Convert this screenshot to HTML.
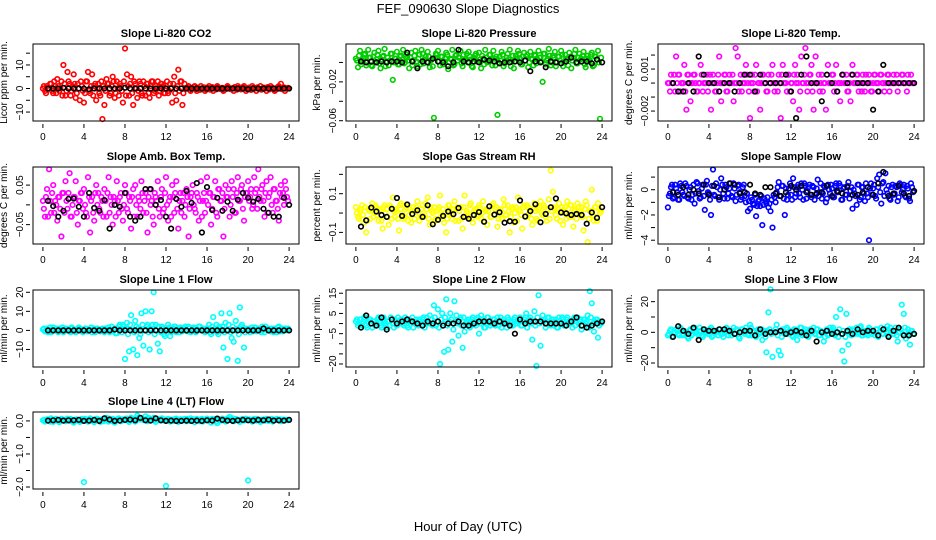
<!DOCTYPE html>
<html><head><meta charset="utf-8">
<style>
body{margin:0;background:#fff;}
svg{display:block;font-family:"Liberation Sans",sans-serif;}
</style></head>
<body>
<svg id="chart" width="936" height="540" viewBox="0 0 936 540">
<rect width="936" height="540" fill="#fff"/>
<text x="468" y="13" text-anchor="middle" font-size="13">FEF_090630  Slope Diagnostics</text>
<text x="468" y="531" text-anchor="middle" font-size="13">Hour of Day (UTC)</text>
</svg>
<script>
const xTicks = [0,4,8,12,16,20,24];
const colorStepHours = 0.2;
const coreOffsetHours = 0.1;
const blackStartHour = 0.5;
const blackStepHours = 0.5;

const co2Color = [0,-1,1,0,2,-2,1,4,-1,3, 10,-3,7,2,-1,6,-4,2,-5,1, -6,3,7,-2,6,1,-5,2,-3,-13, -7,4,2,-2,5,-4,3,-3,1,-6, 17,6,-3,5,-7,2,-4,3,-2,3, -3,2,-4,3,-2,1,3,-1,2,-2, 1,-2,2,-6,5,-5,8,3,-7,2, 0,1,-1,0,1,-1,0,1,0,-1, 0,1,0,-1,0,1,0,0,-1,0, 1,0,0,-1,0,1,0,0,1,-1, 0,0,1,0,-1,0,1,0,0,-1, 0,1,0,-1,0,1,2,0,-1,0];
const co2Core = [1,-2,0,2,-1,3,-2,1,0,-3, 2,-1,3,-3,1,2,-2,0,3,-1, -2,3,-1,1,-3,2,0,-2,3,1, -1,2,-3,1,3,-2,0,2,-1,3, -3,1,2,-2,3,0,-1,2,-3,1, 2,-2,1,3,-1,0,-3,2,1,-2, 3,-1,0,2,-2,1,-1,3,-2,0, 0.5,-0.5,0,0.7,-0.3,0.4,-0.6,0,0.5,-0.4, 0.3,-0.5,0.6,0,-0.4,0.5,-0.2,0.3,-0.6,0.2, 0.5,-0.3,0,0.6,-0.5,0.2,-0.4,0.5,0,-0.3, 0.4,-0.6,0.3,0,0.5,-0.2,-0.5,0.4,0,0.6, -0.4,0.3,0,-0.5,0.6,0.2,-0.3,0.5,-0.1,0.3];
const co2Black = [0,0,0,0.3,0,0,0,0,-0.3,0,0,0,0,0,0,0.3,0,0,0,0,0,0,0,0,0,0,0,0,0,0,0,0,0,0,0,0,0,0,0,-0.3,0,0,0,0,0,0,0,0];

const presColor = [0.004,-0.005,0.012,0.002,0.008,-0.003,0.013,0.005,-0.004,0.01, 0.003,0.012,-0.006,0.006,0.014,0.001,-0.003,0.009,-0.018,0.004, 0.011,-0.002,0.007,0.013,0,0.005,-0.006,0.01,0.002,0.012, -0.004,0.008,0.013,-0.001,0.006,0.011,-0.005,0.003,-0.057,0.009, 0.012,-0.003,0.006,0.001,0.01,-0.007,0.004,0.013,-0.002,0.008, 0.005,0.012,-0.004,0.002,0.009,0.011,0.003,-0.005,0.007,0.001, 0.01,-0.006,0.004,0.013,0,0.008,0.003,0.012,-0.003,-0.054, 0.006,0.011,-0.004,0.002,0.009,0.013,0.001,-0.006,0.007,0.012, 0.004,-0.002,0.01,0.006,-0.005,0.011,0.003,0.008,-0.001,0.012, 0.005,-0.02,0.009,0.002,0.014,-0.003,0.007,0.011,0,0.006, 0.012,-0.004,0.008,0.003,0.01,-0.006,0.005,0.013,-0.001,0.009, 0.004,0.011,-0.005,0.007,0.002,0.01,-0.003,0.006,0.012,-0.058];
const presCore = [0.002,0.007,-0.002,0.004,0.009,0,0.005,-0.003,0.006,0.001, 0.008,-0.001,0.003,0.007,-0.004,0.005,0.002,0.009,0,0.004, -0.002,0.006,0.003,-0.001,0.008,0.002,0.005,-0.003,0.007,0.001, 0.004,-0.002,0.009,0.003,0,0.006,0.002,-0.004,0.005,0.008, 0.001,0.006,-0.002,0.004,0.008,0,0.003,-0.003,0.007,0.002, 0.005,-0.001,0.008,0.003,0,0.006,-0.004,0.004,0.009,0.001, 0.003,0.007,-0.002,0.005,0.001,0.008,-0.003,0.004,0.006,0, 0.002,0.008,-0.001,0.005,0.003,-0.004,0.007,0.001,0.004,0.009, -0.002,0.006,0.002,0.008,0,0.004,-0.003,0.007,0.003,0.005, 0.001,0.009,-0.002,0.004,0.007,0,0.005,-0.004,0.006,0.002, 0.008,0,0.004,-0.003,0.006,0.002,0.009,-0.001,0.005,0.003, 0.007,-0.002,0.004,0.001,0.008,-0.004,0.006,0.003,0,0.005];
const presBlack = [0.001,0,0.001,0,0.001,0,0.001,0.001,0,0.01,0.001,-0.006,0.001,0,0.004,0.001,0,-0.004,0,0.013,0.001,0,0.001,0,0.003,0.002,0.001,-0.001,0,0,0.001,0,0.002,-0.009,0.001,0,-0.005,0.001,0,-0.001,0.001,0.005,0,0.001,0.001,-0.001,0.003,0];

const tempColor = [0,-0.0006,0,0.0006,0.0019,0.0006,-0.0006,0,0.0013,-0.0019, 0.0006,-0.0013,0,0.0006,-0.0006,0,0.0013,-0.0006,0,0.0006, 0,-0.0019,0.0006,-0.0006,0,0.0019,-0.0013,0,0.0006,-0.0006, 0.0006,0,-0.0013,0.0025,0.0019,0,-0.0006,0.0006,0.0013,0, -0.0025,0.0006,-0.0006,0.0013,0,-0.0019,0.0006,0,-0.0006,0.0006, 0,0.0013,-0.0006,0,0.0006,-0.0025,0.0013,0,-0.0006,0.0006, 0,-0.0013,0.0013,0.0006,-0.0019,0.0019,0,0.0025,-0.0006,0.0006, 0.0013,-0.0019,0.0019,0,-0.0006,0.0006,0,-0.0019,0.0013,0, 0.0006,-0.0006,0.0013,0,-0.0013,0.0006,0,0.0006,-0.0006,-0.0013, 0.0013,0,0.0006,-0.0006,0,0.0006,-0.0006,0,0.0006,-0.0006, 0,0.0006,0,-0.0006,0.0006,0,0,0.0006,-0.0006,0, 0.0006,0,-0.0006,0,0.0006,0,0,0.0006,0,0];
const tempCore = [0,0.0006,0,-0.0006,0,0.0006,0,0,-0.0006,0.0006, 0,0,0.0006,0,-0.0006,0,0.0006,0,0,-0.0006, 0.0006,0,0,-0.0006,0.0006,0,0,0.0006,-0.0006,0, 0,0.0006,0,0,-0.0006,0.0006,0,0,0.0006,-0.0006, 0,0,0.0006,-0.0006,0,0,0.0006,0,-0.0006,0, 0.0006,0,0,-0.0006,0,0.0006,0,0,0.0006,-0.0006, 0,0.0006,0,0,-0.0006,0,0.0006,0,0,0.0006, -0.0006,0,0,0.0006,0,-0.0006,0,0.0006,0,0, 0.0006,0,-0.0006,0,0,0.0006,0,-0.0006,0,0.0006, 0,0,0.0006,0,-0.0006,0,0.0006,0,0,-0.0006, 0.0006,0,0,0.0006,0,-0.0006,0,0.0006,0,0, 0,0.0006,0,0,0.0006,0,-0.0006,0,0.0006,0];
const tempBlack = [0,-0.0006,-0.0006,0,-0.0006,0.0019,0.0006,0,0,-0.0006,0,0,-0.0006,0,0.0006,0.0006,-0.0006,0.0006,0,0,0,0,0.0006,-0.0006,-0.0025,0.0006,0.0019,0,0,-0.0013,0.0006,0,-0.0006,0.0006,0,0.0006,0,0,0,-0.0019,-0.0006,0.0013,0,0,0,0,0,0];

const ambColor = [0.01,-0.03,0.04,0.09,-0.02,0.05,0.01,-0.04,0.02,-0.08, 0.03,0.06,-0.01,0.08,-0.03,0.02,0.06,-0.05,0.01,0.03, 0.04,-0.02,0.07,-0.07,0.02,-0.04,0.05,0.03,-0.02,0.01, 0.04,-0.03,0.07,0.02,-0.05,0.01,0.06,-0.02,0.03,-0.04, 0.05,-0.01,0.02,-0.06,0.04,0.05,-0.03,0.01,0.06,-0.02, 0.03,-0.07,0.04,0.01,-0.05,0.02,0.06,-0.03,0.04,-0.01, 0.07,-0.04,0.02,0.05,-0.02,0.06,-0.06,0.03,0.01,-0.03, 0.04,-0.08,0.02,0.05,-0.01,0.03,-0.04,0.06,0.01,-0.02, 0.07,0.03,-0.05,0.02,0.06,-0.03,0.04,0.01,-0.08,0.05, 0.02,-0.03,0.06,0.04,-0.02,0.07,0.01,0.05,-0.04,0.03, 0.06,0.02,-0.01,0.07,0.04,0.09,0.01,0.05,-0.03,0.06, 0.02,0.07,-0.02,0.04,0.01,-0.04,0.05,0.03,0.06,0.02];
const ambCore = [-0.01,0.02,-0.03,0.01,0.03,-0.02,0,0.02,-0.01,0.03, -0.02,0.01,0.03,-0.03,0,0.02,-0.02,0.01,0.03,-0.01, 0,-0.03,0.02,0.01,-0.02,0.03,0,-0.01,0.02,-0.03, 0.01,0.03,-0.02,0,0.02,-0.03,0.01,0.02,-0.01,0, 0.03,-0.02,0.01,0.02,-0.03,0,0.02,-0.01,0.03,0.01, -0.02,0.02,0,-0.03,0.03,0.01,-0.01,0.02,-0.02,0.03, 0,0.01,-0.03,0.02,0.03,-0.01,0.01,-0.02,0.03,0, 0.02,-0.01,0.03,0,-0.02,0.02,0.01,-0.03,0.03,0.01, 0,0.03,-0.01,0.02,-0.02,0.04,0.01,0.03,-0.01,0.02, 0.04,0,0.02,-0.02,0.03,0.01,0.04,-0.01,0.02,0.03, 0.01,0.04,0,0.03,-0.01,0.02,0.04,0.01,0.03,-0.02, 0.03,0,0.04,0.01,-0.01,0.03,0.02,0,0.04,0.01];
const ambBlack = [0.01,-0.003,-0.03,-0.015,0.015,0.016,-0.005,-0.03,0.03,-0.008,-0.015,0.012,-0.06,0,-0.005,0.03,-0.03,-0.04,-0.03,0.04,0.04,0,0.012,-0.03,-0.06,0.015,-0.005,0.035,0.005,0.055,-0.07,0.045,-0.013,0.018,-0.015,0.008,-0.015,0.013,0.03,0.018,0.008,0.015,-0.01,-0.02,-0.03,-0.03,0.018,0];

const rhColor = [0.03,-0.02,0.01,0.04,-0.05,-0.1,0.02,-0.03,0.05,0, 0.03,-0.04,0.01,-0.08,0.04,0.02,-0.06,0.03,0.08,-0.02, 0.01,-0.09,0.05,-0.03,0.02,0.04,-0.01,-0.05,0.03,0.01, 0.06,-0.04,0.02,-0.02,0.05,0.08,-0.06,0.01,0.03,-0.03, 0.02,0.09,-0.01,-0.05,-0.1,0.04,0.01,-0.03,0.06,0.02, -0.04,0.03,-0.08,0.09,0.01,-0.02,0.05,-0.05,0.02,-0.01, 0.04,-0.03,0.06,0.01,-0.06,0.03,-0.02,0.05,0.02,-0.07, 0.01,-0.03,0.07,-0.01,0.04,-0.1,0.02,-0.05,0.03,0.08, 0.01,-0.08,0.04,-0.02,0.03,0.01,-0.06,0.05,-0.03,0.02, 0.06,-0.01,0.03,-0.04,0.07,0.22,0.11,0.02,-0.03,0.05, 0.01,-0.06,0.03,0.06,-0.02,0.04,-0.07,0.02,0.05,-0.01, 0.03,-0.09,0.06,-0.15,0.01,0.12,-0.04,0.03,0.05,0];
const rhCore = [0,-0.03,0.02,-0.01,0.03,-0.04,0.01,0.02,-0.02,0.04, -0.01,0.02,-0.04,0.03,0,-0.02,0.04,-0.03,0.01,0.02, -0.03,0.04,0,-0.02,0.03,-0.04,0.02,0.01,-0.03,0.03, 0,-0.02,0.04,-0.01,0.02,-0.03,0.03,0,-0.04,0.01, 0.03,-0.02,0.02,0,-0.03,0.04,-0.01,0.02,-0.04,0.03, 0.01,-0.03,0.03,-0.02,0,0.04,-0.03,0.01,0.02,-0.02, 0.03,0,-0.04,0.02,0.01,-0.02,0.04,-0.01,0.03,-0.03, 0.02,0,0.04,-0.03,0.01,-0.02,0.03,0,-0.04,0.02, -0.01,0.03,-0.02,0.04,0,-0.03,0.02,0.01,-0.04,0.03, 0,0.04,-0.02,0.02,-0.03,0.01,0.03,-0.01,0.02,-0.04, 0.03,0,-0.03,0.02,0.04,-0.02,0.01,-0.03,0.03,0, -0.02,0.02,0.04,-0.03,0.01,-0.01,0.03,-0.04,0.02,0.01];
const rhBlack = [-0.07,-0.038,0.028,0.008,-0.01,-0.02,0.022,0.078,-0.015,0.044,-0.005,0.014,-0.02,0.04,-0.058,-0.035,-0.015,0.008,-0.006,0.026,-0.02,-0.03,-0.01,0.005,-0.045,0.035,-0.008,0.004,-0.05,-0.042,-0.045,0.065,-0.018,0.01,0.045,-0.048,-0.005,0.03,0.075,0.003,-0.002,-0.01,-0.005,-0.01,-0.055,0.003,-0.025,0.03];

const sampColor = [-1.4,-0.3,0.4,-0.6,0.1,-0.8,0.5,-0.2,-0.5,0.3, -0.7,0.2,-0.4,-1.1,0.6,-0.1,-0.6,0.4,-1.6,0.7, -0.3,-2,1.6,-0.5,0.2,-0.8,0.9,-0.3,0.4,-0.7, 0.1,-0.5,0.5,-0.9,0.3,-0.2,-0.6,0.4,-1,-1.7, -1.5,-0.8,-1.2,-2.1,-0.9,-1.3,-2.8,-0.7,-1.1,-1.4, -1.7,-3,-0.6,-0.2,0.6,-0.5,0.3,-2,-0.8,0.1, -0.4,0.9,-0.6,0.2,-0.3,0.5,-0.8,0.3,-0.1,0.4, -0.6,0.2,-0.4,0.8,-0.2,-0.7,0.3,-1,0.4,-0.3, 0.1,-0.6,0.5,-0.2,0.3,-0.8,0.2,-0.4,0.6,-0.1, -1.5,-0.3,-1.2,0.4,-0.6,0.2,-0.9,-0.3,-4,0.5, 0.1,-0.5,0.9,1.2,-1.1,0.6,1.3,-0.3,-0.7,0.2, -0.4,0.3,-0.9,0.5,-0.2,0.4,-0.6,0.1,-0.9,0.2];
const sampCore = [-0.5,0.2,-0.7,0.4,-0.2,-0.8,0.3,-0.4,0.5,-0.6, 0,-0.8,0.4,-0.3,0.5,-0.7,0.1,-0.5,0.4,-0.2, -0.8,0.3,-0.4,0.5,-0.6,0,0.4,-0.7,0.2,-0.3, 0.5,-0.6,0.1,-0.4,0.4,-0.8,0.2,-0.5,-0.3,-0.9, -0.6,-1.1,-0.4,-1.3,-0.8,-0.5,-1.2,-0.9,-0.6,-1.1, -0.8,-0.4,-1,0.2,-0.5,0.3,-0.7,0.1,-0.4,0.5, -0.8,0.2,-0.3,0.4,-0.6,0,0.5,-0.7,0.2,-0.4, 0.3,-0.8,0.1,-0.5,0.5,-0.3,0.2,-0.7,0,0.4, -0.6,0.3,-0.2,0.5,-0.8,0.1,-0.4,0.3,-0.7,0.2, 0,-0.5,0.4,-0.8,0.2,-0.3,0.5,-0.6,0.1,-0.4, 0.4,-0.7,0.2,-0.2,0.5,-0.5,0,0.3,-0.8,0.4, -0.3,0.2,-0.6,0.4,0,-0.5,0.3,-0.7,0.5,-0.2];
const sampBlack = [-0.2,-0.4,0.2,-0.4,0,-0.3,0.4,-0.4,0.3,-0.6,0,0.5,0.4,-0.3,-0.2,0.4,-0.3,-0.4,0.2,0.2,-0.3,-0.5,-0.2,0.3,0,0.3,-0.2,-0.4,-0.3,-0.2,0.3,-0.5,-0.1,-0.3,0.2,-0.4,-0.4,-0.2,0.2,-0.4,0.5,1.4,-0.5,-0.3,0.3,-0.3,-0.5,-0.1];

const l1Color = [0.5,-0.5,1,0,-1,1.5,0,-0.5,1,0.5, -1,1,0.5,-0.5,1.5,0,-1,0.5,1,-0.5, 0,1,-0.5,0.5,-1,1,0,0.5,-0.5,1, -1,0.5,1.5,0,-0.5,1,-1.5,2,0.5,3, -15,4,-11,8,-10,5,-13,-4,9,-8, 10,3,-10,10,20,3,-7,-11,2,-2, 1,3,-3,0.5,2,-1,0.5,1.5,-0.5,1, 0,2,-1,0.5,1,-0.5,2,0,1,-1, 0.5,3,-2,7,1,-1,2,9,-9,4, -15,9,-4,-6,5,-16,12,3,-9,1, 0.5,-1,1.5,0,-0.5,1,0,2,-1,0.5, 1,-0.5,0,1,-1,2,0.5,-0.5,1,0];
const l1Core = [1,0,-1,1.5,-0.5,0.5,1,-1,0,1.5, -0.5,1,0,-1,1,0.5,-0.5,1.5,0,-1, 1,-0.5,0.5,1.5,0,-1,1,0,0.5,-0.5, 1,0,-1,2,0.5,-1.5,1,3,-1,2, 1,-2,3,0,-1,2,1,-2,3,0, 2,-1,1,3,-2,0,2,-1,1,-3, 0,1.5,-1,1,2,0,-1,1,0.5,2, -0.5,1,0,1.5,-1,0.5,2,0,-0.5,1, 1,-1,2,0,3,-2,1,2,-1,0, 3,-1,2,0,1,-2,2,1,-1,0.5, 1,0,-0.5,1.5,0,1,-1,0.5,2,0, 0.5,1,-1,0,1.5,-0.5,1,0,0.5,1];
const l1Black = [0,0,0,0,0,0,0,0,0,0,0,0,0,0.5,0,0,0,0,0,0,0,0,0,0,0,0,0,0,0,0,0,0,0,0,0,0,0,0,0,0,0,0,1,0,0,0,0,0];

const l2Color = [1,-1,2,0,3,-1,1,2,-2,1, 0,3,-1,2,1,-2,1,3,0,2, -1,1,2,0,3,-1,2,1,-2,1, 0,2,-1,3,1,0,4,2,9,-1, 7,-20,5,-14,12,-13,5,-9,11,4, -6,3,-12,-4,1,2,-1,3,0,2, -5,4,1,-2,3,1,0,2,-1,3, 1,-2,2,0,3,1,-1,2,0,1, 3,-1,2,5,0,3,-8,6,-21,14, -11,4,2,0,3,-1,2,1,-2,3, 0,2,-1,3,1,0,2,-1,3,1, -3,2,0,4,16,10,-4,2,-7,1];
const l2Core = [2,0,-1,1,3,-2,2,0,1,-1, 2,1,-2,3,0,1,-1,2,-2,1, 3,0,1,-1,2,-2,1,3,0,2, -1,1,2,-2,3,0,2,-1,3,1, -2,2,0,3,-1,1,2,-3,1,0, 2,-1,3,0,1,-2,2,1,-1,3, 0,2,-2,1,3,-1,0,2,1,-1, 3,0,1,-2,2,1,-1,3,0,2, -1,1,3,-2,2,0,1,-1,3,0, 2,1,-2,3,0,1,-1,2,-2,1, 3,-1,2,0,1,-2,3,1,0,2, -1,2,1,-2,3,0,1,2,-1,0];
const l2Black = [-2,4,0,-1,3,-3,2,0,1,2,1,0,-1,1,0,1,-1,0,0,1,-1,-1,0,1,1,1,0,1,0,-1,-5,2,0,1,1,1,0,0,0,0,-1,1,3,-1,-2,-1,0,1];

const l3Color = [-2,1,-3,0,2,-1,3,-2,1,0, -4,2,-1,3,0,-2,1,-3,2,0, -1,3,-2,1,0,2,-1,-3,1,2, 0,-2,3,-1,1,-4,2,0,3,-1, 5,-2,1,-3,2,0,-5,1,-13,13, 28,-16,0,5,-12,-15,2,-1,3,0, 1,-3,2,-5,0,3,-1,2,-2,1, 0,3,-1,2,-2,0,-6,1,-2,3, 2,-1,10,-3,15,-12,-19,12,-8,1, 2,-1,3,0,4,-2,1,-1,3,0, 1,-2,2,0,3,-1,2,4,-2,1, -1,3,-6,0,18,12,-4,2,-8,1];
const l3Core = [-1,2,-3,0,1,-2,2,-1,0,-3, 1,-2,2,0,-1,3,-2,0,1,-1, 2,-3,0,1,-2,2,-1,0,3,-2, 0,1,-1,2,-3,0,2,-1,1,-2, 3,0,-2,1,-1,2,0,-3,1,2, -1,0,2,-2,1,-3,0,2,-1,1, -2,2,0,-1,3,-2,1,0,-3,2, 0,-1,2,-2,1,0,-3,2,-1,1, 3,-2,0,2,-1,1,-3,0,2,-2, 1,0,-1,3,-2,1,0,-2,2,-1, 0,2,-3,1,-1,2,0,-2,3,-1, 1,-2,0,2,-1,3,-2,0,1,-1];
const l3Black = [-3,4,1,-1,3,-5,2,1,1,2,2,1,-1,0,1,1,-2,2,-1,0,0,1,-1,0,1,0,-2,1,-6,0,1,-1,0,-1,1,-1,2,0,1,1,-2,2,-3,1,3,-2,-2,-1];

const l4Color = [0.02,-0.02,0.05,0,0.08,-0.03,0.04,0.01,-0.04,0.06, 0.02,-0.01,0.07,0,0.03,-0.05,0.04,0.02,-0.03,0.06, -1.85,0.05,-0.02,0.08,0.01,-0.04,0.06,0.02,-0.03,0.05, 0.01,0.09,-0.02,0.04,0.06,-0.05,0.03,0.08,-0.01,0.05, 0.02,0.07,-0.03,0.1,0.04,-0.02,0.16,0.05,0.08,0.03, 0.14,-0.01,0.07,0.04,0.09,-0.03,0.05,0.02,0.08,0.01, -1.97,0.06,-0.02,0.04,0.01,0.07,-0.03,0.05,0.02,0.06, -0.01,0.04,0.08,0.02,-0.04,0.06,0.01,0.05,-0.02,0.03, 0.07,0.02,-0.05,0.04,0.06,-0.07,0.03,0.01,0.05,-0.02, 0.08,0.12,0.04,-0.01,0.06,0.02,-0.03,0.05,0.01,0.07, -1.8,0.04,-0.02,0.06,0.01,0.05,-0.03,0.04,0.02,0.06, 0,0.05,-0.02,0.03,0.06,0.01,-0.01,0.04,0.02,0.03];
const l4Core = [0.03,0,0.05,-0.02,0.04,0.01,0.06,-0.01,0.03,0.05, 0,0.04,0.02,0.06,-0.02,0.03,0.05,0,0.04,0.01, 0.06,0.02,-0.01,0.05,0.03,0,0.06,0.02,0.04,-0.01, 0.05,0.03,0.07,0,0.04,0.02,0.06,0.01,0.05,0.03, 0.07,0.02,0.05,0.08,0.03,0.06,0.1,0.04,0.07,0.02, 0.06,0.09,0.03,0.05,0.02,0.07,0.04,0.01,0.06,0.03, 0.05,0.02,0.04,0,0.06,0.03,0.01,0.05,0.02,0.04, 0.06,0,0.03,0.05,0.02,0.04,-0.01,0.06,0.03,0.05, 0.01,0.04,0.06,0.02,-0.02,0.05,0.03,0.07,0.02,0.04, 0.06,0.03,0.08,0.02,0.05,0.01,0.04,0.06,0.02,0.03, 0.05,0.01,0.04,0.02,0.06,0,0.03,0.05,0.01,0.04, 0.02,0.06,0.01,0.04,0.03,0.05,0,0.04,0.03,0.02];
const l4Black = [0.01,0.02,0.03,0.01,0.02,0.02,0.03,0,0.01,0.03,0,0.08,0.04,0,0.01,0.03,0.04,0.02,0.09,0.02,0.01,0.08,0.02,0,0.01,0,0,0.01,0,0.01,0,0.02,0.01,0.07,0.03,0.01,0,0.02,0.03,0.02,0.01,0.03,0.02,0.04,0.01,0.02,0.01,0.03];

const panels = [
 {id:'co2', title:'Slope Li-820 CO2', ylab:'Licor ppm per min.', col:'#ff0000', bx:33, by:44, ymin:-13.8, ymax:18.9, ticks:[-10,-5,0,5,10,15], labels:[-10,0,10], dec:0, c:co2Color, d:co2Core, k:co2Black},
 {id:'pressure', title:'Slope Li-820 Pressure', ylab:'kPa per min.', col:'#00cd00', bx:346, by:44, ymin:-0.0603, ymax:0.019, ticks:[-0.06,-0.04,-0.02,0], labels:[-0.06,-0.02], dec:2, c:presColor, d:presCore, k:presBlack},
 {id:'temp', title:'Slope Li-820 Temp.', ylab:'degrees C per min.', col:'#ff00ff', bx:658, by:44, ymin:-0.00271, ymax:0.00279, ticks:[-0.002,-0.001,0,0.001,0.002], labels:[-0.002,0.001], dec:3, c:tempColor, d:tempCore, k:tempBlack},
 {id:'amb-temp', title:'Slope Amb. Box Temp.', ylab:'degrees C per min.', col:'#ff00ff', bx:33, by:167, ymin:-0.099, ymax:0.0958, ticks:[-0.05,0,0.05], labels:[-0.05,0.05], dec:2, c:ambColor, d:ambCore, k:ambBlack},
 {id:'rh', title:'Slope Gas Stream RH', ylab:'percent per min.', col:'#ffff00', bx:346, by:167, ymin:-0.16, ymax:0.238, ticks:[-0.1,0,0.1,0.2], labels:[-0.1,0.1], dec:1, c:rhColor, d:rhCore, k:rhBlack},
 {id:'sample-flow', title:'Slope Sample Flow', ylab:'ml/min per min.', col:'#0000ff', bx:658, by:167, ymin:-4.3, ymax:1.8, ticks:[-4,-3,-2,-1,0,1], labels:[-4,-2,0], dec:0, c:sampColor, d:sampCore, k:sampBlack},
 {id:'line1', title:'Slope Line 1 Flow', ylab:'ml/min per min.', col:'#00ffff', bx:33, by:290, ymin:-19.2, ymax:21.2, ticks:[-10,0,10,20], labels:[-10,0,10,20], dec:0, c:l1Color, d:l1Core, k:l1Black},
 {id:'line2', title:'Slope Line 2 Flow', ylab:'ml/min per min.', col:'#00ffff', bx:346, by:290, ymin:-21.5, ymax:16.6, ticks:[-20,-15,-10,-5,0,5,10,15], labels:[-20,-5,5,15], dec:0, c:l2Color, d:l2Core, k:l2Black},
 {id:'line3', title:'Slope Line 3 Flow', ylab:'ml/min per min.', col:'#00ffff', bx:658, by:290, ymin:-22.6, ymax:27.6, ticks:[-20,-10,0,10,20], labels:[-20,0,20], dec:0, c:l3Color, d:l3Core, k:l3Black},
 {id:'line4', title:'Slope Line 4 (LT) Flow', ylab:'ml/min per min.', col:'#00ffff', bx:33, by:412, ymin:-2.06, ymax:0.27, ticks:[-2,-1.5,-1,-0.5,0], labels:[-2,-1,0], dec:1, c:l4Color, d:l4Core, k:l4Black}
];

const NS = 'http://www.w3.org/2000/svg';
const svg = document.getElementById('chart');
const W = 266, H = 77;
function mk(tag, attrs, parent){ const e = document.createElementNS(NS, tag); for (const a in attrs) e.setAttribute(a, attrs[a]); parent.appendChild(e); return e; }
function fmt(v, dec){ if (Math.abs(v) < 1e-12) return dec > 0 ? '0.' + '0'.repeat(dec) : '0'; return v.toFixed(dec).replace('-', '\u2212'); }

panels.forEach(p => {
  const g = mk('g', {}, svg);
  
  
  const xs = h => p.bx + 9.9 + h * (W - 19.8) / 24;
  const ys = v => p.by + H - (v - p.ymin) / (p.ymax - p.ymin) * H;
  const t = mk('text', {x: p.bx + W/2, y: p.by - 7, 'text-anchor':'middle', 'font-size':'11', 'font-weight':'bold'}, g);
  t.textContent = p.title;
  
  
  const yl = mk('text', {x: 0, y: 0, transform: `translate(${p.bx-26},${p.by+H/2}) rotate(-90)`, 'text-anchor':'middle', 'font-size':'10'}, g);
  yl.textContent = p.ylab;
  
  
  const pts = mk('g', {fill:'none', stroke:p.col, 'stroke-width':'1.6'}, g);
  
  
  const drawColor = (arr, off) => arr.forEach((v,i) => {
    const y = ys(v); if (y < p.by-3 || y > p.by+H+3) return;
    const c = mk('circle', {cx: xs(off + i*colorStepHours).toFixed(1), cy: y.toFixed(1), r:'2.3'}, pts);
    
    
  });
  drawColor(p.c, 0);
  drawColor(p.d, coreOffsetHours);
  const bk = mk('g', {fill:'none', stroke:'#000', 'stroke-width':'1.6'}, g);
  
  
  p.k.forEach((v,i) => {
    const c = mk('circle', {cx: xs(blackStartHour + i*blackStepHours).toFixed(1), cy: ys(v).toFixed(1), r:'2.3'}, bk);
    
    
  });
  const box = mk('rect', {x:p.bx, y:p.by, width:W, height:H, fill:'none', stroke:'#000', 'stroke-width':'1'}, g);
  
  
  const xa = mk('g', {stroke:'#000'}, g);
  
  
  xTicks.forEach(h => {
    mk('line', {x1:xs(h), x2:xs(h), y1:p.by+H+3, y2:p.by+H+7}, xa);
    const tl = mk('text', {x:xs(h), y:p.by+H+19, 'text-anchor':'middle', 'font-size':'10', stroke:'none'}, xa);
    tl.textContent = h;
    
    
  });
  const ya = mk('g', {stroke:'#000'}, g);
  
  
  p.ticks.forEach(v => {
    const y = ys(v); if (y < p.by-1 || y > p.by+H+1) return;
    mk('line', {x1:p.bx-3, x2:p.bx-7, y1:y, y2:y}, ya);
  });
  p.labels.forEach(v => {
    const y = ys(v);
    const tl = mk('text', {x:0, y:0, transform:`translate(${p.bx-10},${y}) rotate(-90)`, 'text-anchor':'middle', 'font-size':'10', stroke:'none'}, ya);
    tl.textContent = fmt(v, p.dec);
    
    
  });
});
</script>
</body></html>
